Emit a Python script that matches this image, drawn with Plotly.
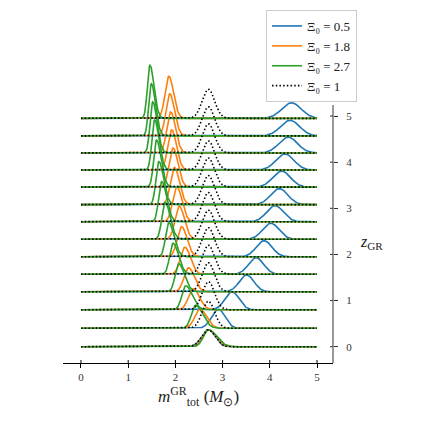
"""Ridge plot of m_tot^GR posteriors against z_GR for several Xi_0 values."""

import numpy as np
import plotly.graph_objects as go

# --- data ------------------------------------------------------------------
z_gr = [0.0, 0.40, 0.80, 1.19, 1.57, 1.95, 2.33, 2.71, 3.08, 3.46, 3.83, 4.20, 4.57, 4.95]

xi0_labels = ["0.5", "1.8", "2.7", "1"]

# peak position of each ridge (M_sun)
peak_xi05 = [2.70, 2.91, 3.20, 3.51, 3.71, 3.88, 4.02, 4.11, 4.20, 4.25, 4.32, 4.39, 4.43, 4.46]
peak_xi18 = [2.70, 2.52, 2.38, 2.28, 2.20, 2.13, 2.08, 2.03, 1.98, 1.95, 1.92, 1.90, 1.88, 1.86]
peak_xi27 = [2.70, 2.43, 2.22, 2.07, 1.95, 1.86, 1.78, 1.71, 1.65, 1.60, 1.56, 1.52, 1.49, 1.46]
peak_xi1 = [2.70] * 14

# peak density of each ridge
dens_xi05 = [1.80, 2.01, 1.90, 1.78, 1.75, 1.70, 1.70, 1.70, 1.70, 1.70, 1.70, 1.67, 1.65, 1.64]
dens_xi18 = [1.80, 2.01, 2.22, 2.54, 2.86, 3.18, 3.50, 3.71, 3.92, 4.13, 4.24, 4.34, 4.45, 4.45]
dens_xi27 = [1.80, 2.44, 2.54, 2.97, 3.28, 3.60, 3.92, 4.24, 4.55, 4.98, 5.30, 5.40, 5.51, 5.61]
dens_xi1 = [1.80, 2.86, 2.97] + [3.07] * 11

# width of each ridge
sig_xi05 = [0.14, 0.14, 0.15, 0.155, 0.16, 0.165, 0.17, 0.175, 0.18, 0.185, 0.19, 0.195, 0.20, 0.205]
sig_xi18 = [0.14, 0.125, 0.118, 0.112, 0.107, 0.103, 0.10, 0.098, 0.096, 0.094, 0.093, 0.092, 0.091, 0.09]
sig_xi27 = [0.14, 0.12, 0.11, 0.10, 0.095, 0.09, 0.087, 0.084, 0.081, 0.078, 0.076, 0.074, 0.072, 0.07]
sig_xi1 = [0.14] + [0.13] * 13

x_ticks = [0, 1, 2, 3, 4, 5]
z_ticks = [0, 1, 2, 3, 4, 5]

# --- styling ---------------------------------------------------------------
FONT = "Liberation Serif"
HEIGHT_SCALE = 0.205  # z units per unit of density
X_RANGE = [-0.381, 5.339]
Y_RANGE = [-0.353, 7.298]

series = [
    (xi0_labels[0], peak_xi05, dens_xi05, sig_xi05, 0.0, "#1f77b4", None),
    (xi0_labels[1], peak_xi18, dens_xi18, sig_xi18, 0.12, "#ff7f0e", None),
    (xi0_labels[2], peak_xi27, dens_xi27, sig_xi27, 0.25, "#2ca02c", None),
    (xi0_labels[3], peak_xi1, dens_xi1, sig_xi1, 0.0, "black", "1.5px,2.2px"),
]

m_grid = np.linspace(0, 5, 501)


def ridge(peak, height, sigma, skew):
    s = np.where(m_grid < peak, sigma * (1 - skew), sigma * (1 + skew))
    return height * np.exp(-0.5 * ((m_grid - peak) / s) ** 2)


fig = go.Figure()
for label, peaks, dens, sigs, skew, color, dash in series:
    for i, z in enumerate(z_gr):
        fig.add_trace(
            go.Scatter(
                x=m_grid,
                y=z + HEIGHT_SCALE * ridge(peaks[i], dens[i], sigs[i], skew),
                mode="lines",
                line=dict(color=color, width=1.6, dash=dash),
                name=f"Ξ₀ = {label}",
                legendgroup=label,
                showlegend=(i == 0),
                hoverinfo="skip",
            )
        )

# right-hand z axis line and the inner halves of the crossing ticks
shapes = [
    dict(type="line", xref="paper", yref="y", x0=1, x1=1, y0=Y_RANGE[0], y1=5.238,
         line=dict(color="#333333", width=1)),
]
for t in z_ticks:
    shapes.append(dict(type="line", xref="paper", yref="y", x0=1 - 3 / 270, x1=1,
                       y0=t, y1=t, line=dict(color="#333333", width=1)))
for t in x_ticks:
    shapes.append(dict(type="line", xref="x", yref="paper", x0=t, x1=t,
                       y0=0, y1=3 / 353, line=dict(color="black", width=1)))

fig.update_layout(
    width=432,
    height=432,
    # the page body adds 8px on the left and top
    margin=dict(l=55, r=107, t=2, b=77),
    paper_bgcolor="white",
    plot_bgcolor="white",
    font=dict(family=FONT, size=11, color="#333333"),
    shapes=shapes,
    legend=dict(
        x=0.752, y=1.0, xanchor="left", yanchor="top",
        bgcolor="rgba(255,255,255,0.85)", bordercolor="#cccccc", borderwidth=1,
        font=dict(family=FONT, size=13, color="#222222"),
        itemwidth=30, tracegroupgap=0,
    ),
    annotations=[
        dict(text="<i>m</i><sup>GR</sup><sub>tot</sub> (<i>M</i><sub>⊙</sub>)",
             xref="paper", yref="paper", x=0.5, y=-0.096,
             xanchor="center", yanchor="middle", showarrow=False,
             font=dict(family=FONT, size=17, color="#222222")),
        dict(text="<i>z</i><sub>GR</sub>",
             xref="paper", yref="paper", x=1.144, y=0.34,
             xanchor="center", yanchor="middle", showarrow=False,
             font=dict(family=FONT, size=16, color="#222222")),
    ],
)
fig.update_xaxes(
    range=X_RANGE, tickvals=x_ticks, showgrid=False, zeroline=False,
    showline=True, linecolor="black", linewidth=1,
    ticks="outside", ticklen=4, tickcolor="black",
)
fig.update_yaxes(
    range=Y_RANGE, tickvals=z_ticks, side="right", showgrid=False, zeroline=False,
    showline=False, ticks="outside", ticklen=4, tickcolor="#333333",
    ticklabelstandoff=6,
)

fig.write_html("out.html")
